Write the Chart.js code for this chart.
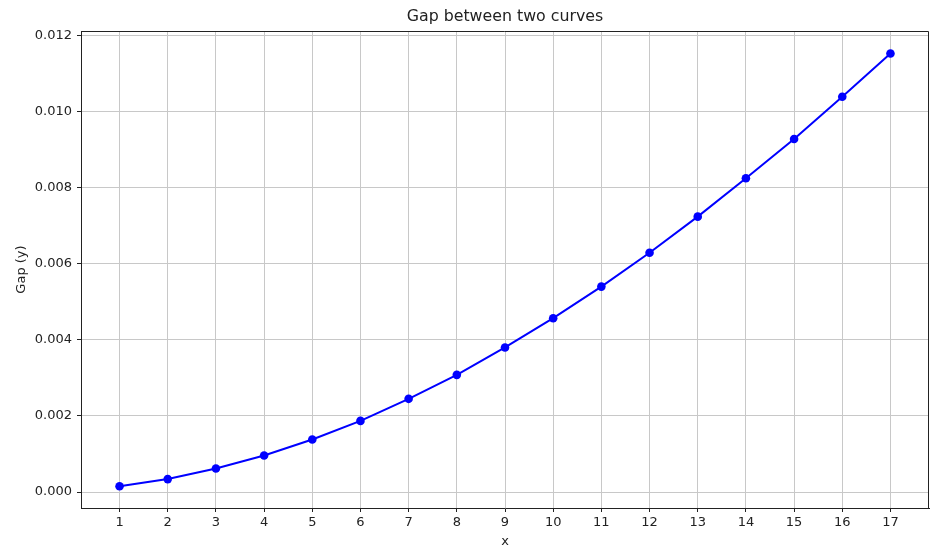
<!DOCTYPE html>
<html>
<head>
<meta charset="utf-8">
<script src="https://cdn.jsdelivr.net/npm/chart.js@4/dist/chart.umd.min.js"></script>
<style>
    html, body { margin: 0; padding: 0; background: #fff; }
    #wrap { width: 952px; height: 554px; }
</style>
</head>
<body>
<div id="wrap"><canvas id="gapChart"></canvas></div>
<script>
// Veriler
const xValues = [1, 2, 3, 4, 5, 6, 7, 8, 9, 10, 11, 12, 13, 14, 15, 16, 17];
const gapValues = [0.00015, 0.00034, 0.00062, 0.00096, 0.00138, 0.00187, 0.00245, 0.00308,
    0.00380, 0.00457, 0.00540, 0.00629, 0.00724, 0.00825, 0.00928, 0.01039, 0.01153];
const xTicks = [1, 2, 3, 4, 5, 6, 7, 8, 9, 10, 11, 12, 13, 14, 15, 16, 17];
const yTicks = [0, 0.002, 0.004, 0.006, 0.008, 0.010, 0.012];
const chartTitle = 'Gap between two curves';

const FONT = 'DejaVu Sans';
const INK = '#222';

// Üst ve sağ kenar çizgileri + çizim alanına ortalanmış başlık (matplotlib gibi)
const framePlugin = {
    id: 'frame',
    afterDatasetsDraw(chart) {
        const { ctx, chartArea: a } = chart;
        const l = Math.round(a.left), r = Math.round(a.right) - 0.5, t = Math.round(a.top) + 0.5;
        ctx.save();
        ctx.strokeStyle = INK;
        ctx.lineWidth = 1;
        ctx.beginPath();
        ctx.moveTo(l, t);
        ctx.lineTo(r, t);
        ctx.lineTo(r, Math.round(a.bottom));
        ctx.stroke();

        ctx.fillStyle = INK;
        ctx.font = '15.8px "' + FONT + '"';
        ctx.textAlign = 'center';
        ctx.textBaseline = 'middle';
        ctx.fillText(chartTitle, (a.left + a.right) / 2, 17);
        ctx.restore();
    }
};

function createGapChart() {
    const ctx = document.getElementById('gapChart');
    new Chart(ctx, {
        type: 'line',
        data: {
            datasets: [{
                label: 'Gap',
                data: xValues.map((x, i) => ({ x: x, y: gapValues[i] })),
                borderColor: '#0000ff',
                backgroundColor: '#0000ff',
                borderWidth: 2,
                pointRadius: 4.3,
                pointBorderWidth: 0,
                pointBackgroundColor: '#0000ff',
                tension: 0
            }]
        },
        options: {
            responsive: true,
            maintainAspectRatio: false,
            animation: false,
            devicePixelRatio: 1,
            layout: { padding: { left: 0, right: 23, top: 31, bottom: 0 } },
            plugins: {
                legend: { display: false },
                tooltip: { enabled: false },
                title: { display: false }
            },
            scales: {
                x: {
                    type: 'linear',
                    min: 0.2,
                    max: 17.8,
                    afterBuildTicks: s => { s.ticks = xTicks.map(v => ({ value: v })); },
                    afterFit: s => { s.height = 46; },
                    ticks: {
                        color: INK,
                        font: { family: FONT, size: 13 },
                        padding: 3,
                        maxRotation: 0,
                        autoSkip: false
                    },
                    grid: {
                        color: '#c8c8c8',
                        lineWidth: 1,
                        tickColor: INK,
                        tickLength: 4
                    },
                    border: { color: INK, width: 1 },
                    title: {
                        display: true,
                        text: 'x',
                        color: INK,
                        font: { family: FONT, size: 13 },
                        padding: { top: 0, bottom: 5 }
                    }
                },
                y: {
                    type: 'linear',
                    min: -0.00042,
                    max: 0.01212,
                    afterBuildTicks: s => { s.ticks = yTicks.map(v => ({ value: v })); },
                    afterFit: s => { s.width = 81; },
                    ticks: {
                        color: INK,
                        font: { family: FONT, size: 13 },
                        padding: 5,
                        callback: v => Number(v).toFixed(3)
                    },
                    grid: {
                        color: '#c8c8c8',
                        lineWidth: 1,
                        tickColor: INK,
                        tickLength: 4
                    },
                    border: { color: INK, width: 1 },
                    title: {
                        display: true,
                        text: 'Gap (y)',
                        color: INK,
                        font: { family: FONT, size: 13 },
                        padding: { top: 14, bottom: 0 }
                    }
                }
            }
        },
        plugins: [framePlugin]
    });
}

createGapChart();
</script>
</body>
</html>
